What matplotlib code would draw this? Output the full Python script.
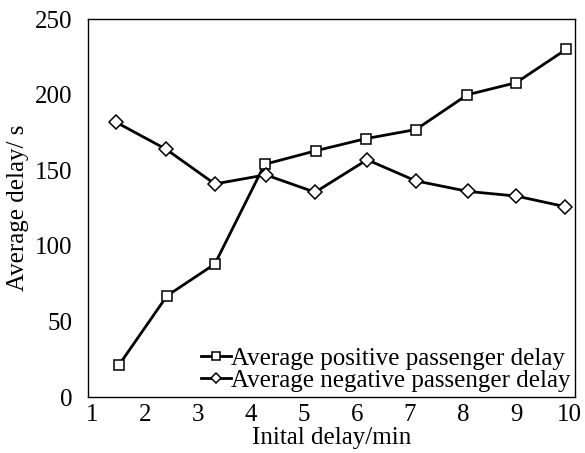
import matplotlib
matplotlib.use("Agg")
import matplotlib.pyplot as plt

# data
x_pos = [1.51, 2.42, 3.32, 4.26, 5.23, 6.17, 7.11, 8.08, 9.0, 9.94]
positive = [21, 67, 88, 154, 163, 171, 177, 200, 208, 230]
x_neg = [1.45, 2.40, 3.32, 4.28, 5.21, 6.19, 7.11, 8.1, 9.0, 9.92]
negative = [182, 164, 141, 147, 135.5, 157, 143, 136, 133, 126]

x_ticks = [1, 2, 3, 4, 5, 6, 7, 8, 9, 10]
y_ticks = [0, 50, 100, 150, 200, 250]

plt.rcParams['font.family'] = ['Liberation Serif', 'DejaVu Serif']
plt.rcParams['font.size'] = 18

fig = plt.figure(figsize=(5.85, 4.53), dpi=100)
ax = fig.add_axes([0.150, 0.1236, 0.833, 0.834])

ax.plot(x_pos, positive, color='black', lw=2.0, marker='s', ms=7.5,
        mfc='white', mec='black', mew=1.1, label='Average positive passenger delay')
ax.plot(x_neg, negative, color='black', lw=2.0, marker='D', ms=7,
        mfc='white', mec='black', mew=1.1, label='Average negative passenger delay')

ax.set_xlim(0.925, 10.11)
ax.set_ylim(0, 250)
ax.set_xticks(x_ticks)
ax.set_yticks(y_ticks)
ax.tick_params(axis='x', length=0, pad=5)
ax.tick_params(axis='y', length=0, pad=11)
for s in ax.spines.values():
    s.set_linewidth(1.0)

ax.set_xlabel('Inital delay/min', labelpad=1)
ax.set_ylabel('Average delay/ s', labelpad=4)

ax.legend(loc='lower right', frameon=False, handlelength=1.2, handletextpad=0.0,
          borderaxespad=0.1, labelspacing=0.0, borderpad=0.1, markerscale=0.75)

fig.savefig('out.png', dpi=100)
